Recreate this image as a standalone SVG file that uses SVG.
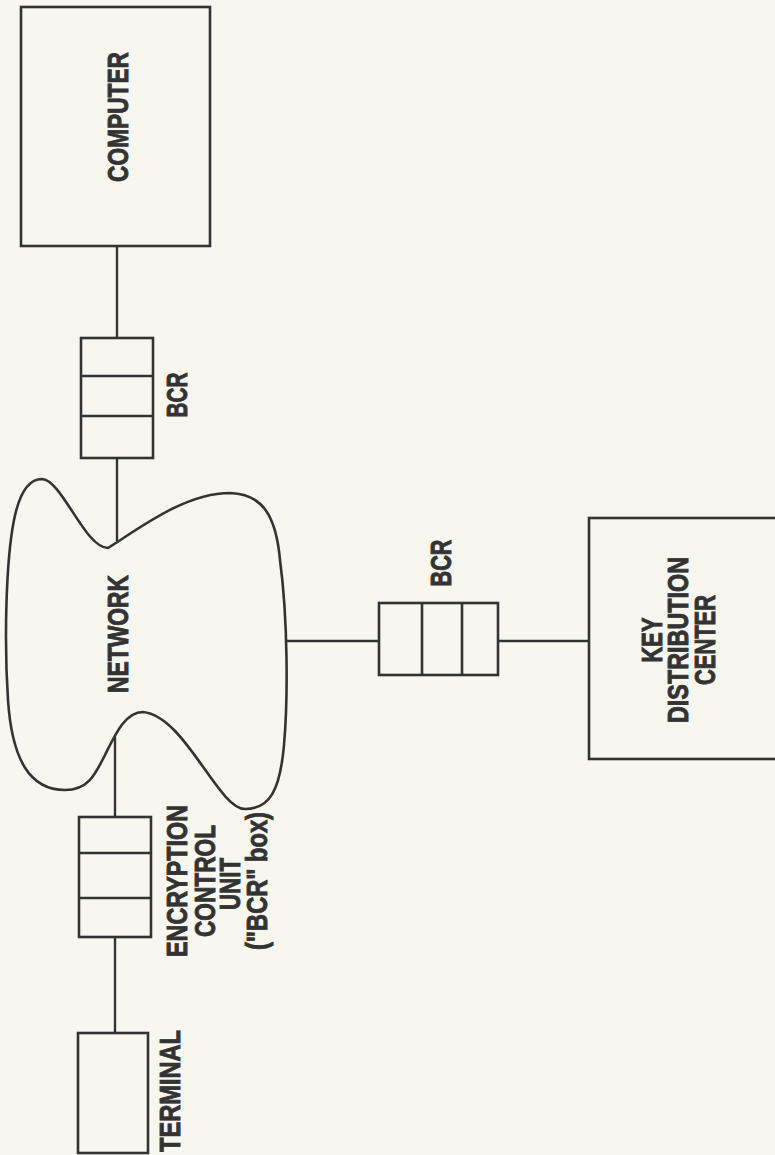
<svg xmlns="http://www.w3.org/2000/svg" width="775" height="1155" viewBox="0 0 775 1155">
<style>
.box{fill:none;stroke:#333;stroke-width:2.6}
.ln{fill:none;stroke:#333;stroke-width:2.4}
.t{font-family:"Liberation Sans Narrow","Liberation Sans",Arial,sans-serif;font-weight:bold;font-size:29px;fill:#333;stroke:#333;stroke-width:0.9;text-anchor:middle}
</style>
<rect x="0" y="0" width="775" height="1155" fill="#f7f7ef"/>
<g id="connectors">
<line class="ln" x1="117" y1="246" x2="117" y2="338"/>
<line class="ln" x1="117" y1="458" x2="117" y2="541"/>
<line class="ln" x1="115" y1="737" x2="115" y2="817"/>
<line class="ln" x1="115" y1="937" x2="115" y2="1033"/>
<line class="ln" x1="286" y1="641" x2="379" y2="641"/>
<line class="ln" x1="498" y1="641" x2="589" y2="641"/>
</g>
<g id="computer">
<rect class="box" x="21" y="7" width="189" height="239"/>
<text class="t" transform="translate(128,117) rotate(-90)" textLength="130" lengthAdjust="spacingAndGlyphs">COMPUTER</text>
</g>
<g id="bcr-top">
<rect class="box" x="81" y="338" width="72" height="120"/>
<line class="box" x1="81" y1="376" x2="153" y2="376"/>
<line class="box" x1="81" y1="416" x2="153" y2="416"/>
<text class="t" transform="translate(187,395) rotate(-90)" textLength="45" lengthAdjust="spacingAndGlyphs">BCR</text>
</g>
<g id="network">
<path class="box" d="M108,548 C140,528 185,493 230,493 C262,494 276,515 280,560 C288,620 288,700 284,745 C280,790 270,809 245,809 C218,809 185,716 143,712 C125,712 115,735 105,755 C95,775 88,790 65,790 C30,790 12,760 8,700 C4,640 6,560 14,520 C20,490 30,479 42,479 C62,480 85,548 108,548 Z"/>
<text class="t" transform="translate(128,634) rotate(-90)" textLength="118" lengthAdjust="spacingAndGlyphs">NETWORK</text>
</g>
<g id="bcr-kdc">
<rect class="box" x="379" y="603" width="119" height="72"/>
<line class="box" x1="422" y1="603" x2="422" y2="675"/>
<line class="box" x1="462" y1="603" x2="462" y2="675"/>
<text class="t" transform="translate(451,563) rotate(-90)" textLength="47" lengthAdjust="spacingAndGlyphs">BCR</text>
</g>
<g id="kdc">
<rect class="box" x="589" y="518" width="210" height="241"/>
<text class="t" transform="translate(662,640) rotate(-90)" textLength="45" lengthAdjust="spacingAndGlyphs">KEY</text>
<text class="t" transform="translate(688,640) rotate(-90)" textLength="166" lengthAdjust="spacingAndGlyphs">DISTRIBUTION</text>
<text class="t" transform="translate(715,640) rotate(-90)" textLength="90" lengthAdjust="spacingAndGlyphs">CENTER</text>
</g>
<g id="ecu">
<rect class="box" x="79" y="817" width="72" height="120"/>
<line class="box" x1="79" y1="853" x2="151" y2="853"/>
<line class="box" x1="79" y1="898" x2="151" y2="898"/>
<text class="t" transform="translate(187,881) rotate(-90)" textLength="152" lengthAdjust="spacingAndGlyphs">ENCRYPTION</text>
<text class="t" transform="translate(215,881) rotate(-90)" textLength="112" lengthAdjust="spacingAndGlyphs">CONTROL</text>
<text class="t" transform="translate(240,884) rotate(-90)" textLength="52" lengthAdjust="spacingAndGlyphs">UNIT</text>
<text class="t" transform="translate(267,881) rotate(-90)" textLength="138" lengthAdjust="spacingAndGlyphs">("BCR" box)</text>
</g>
<g id="terminal">
<rect class="box" x="78" y="1033" width="70" height="120"/>
<text class="t" transform="translate(180,1091) rotate(-90)" textLength="122" lengthAdjust="spacingAndGlyphs">TERMINAL</text>
</g>
</svg>
